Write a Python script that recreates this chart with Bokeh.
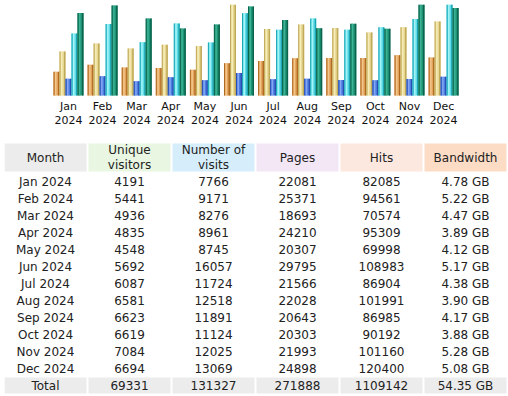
from bokeh.plotting import figure
from bokeh.layouts import column
from bokeh.models import Range1d, ColumnDataSource
from bokeh.transform import dodge
from bokeh.core.properties import value
from bokeh.embed import file_html
from bokeh.resources import INLINE

# ---------------- data ----------------
months = ["Jan", "Feb", "Mar", "Apr", "May", "Jun",
          "Jul", "Aug", "Sep", "Oct", "Nov", "Dec"]
year = "2024"
unique_visitors = [4191, 5441, 4936, 4835, 4548, 5692, 6087, 6581, 6623, 6619, 7084, 6694]
visits = [7766, 9171, 8276, 8961, 8745, 16057, 11724, 12518, 11891, 11124, 12025, 13069]
pages = [22081, 25371, 18693, 24210, 20307, 29795, 21566, 22028, 20643, 20303, 21993, 24898]
hits = [82085, 94561, 70574, 95309, 69998, 108983, 86904, 101991, 86985, 90192, 101160, 120400]
bandwidth_gb = [4.78, 5.22, 4.47, 3.89, 4.12, 5.17, 4.38, 3.90, 4.17, 3.88, 5.28, 5.08]
headers = ["Month", "Unique\nvisitors", "Number of\nvisits", "Pages", "Hits", "Bandwidth"]
totals = ["Total", "69331", "131327", "271888", "1109142", "54.35 GB"]

FONT = value("DejaVu Sans")

# ---------------- bar chart ----------------
PITCH = 34.1          # px per month group
BASE_PX = 91.0        # px of full bar height
bw = 1.0 / PITCH      # one pixel in x data units

vis_max = max(visits + unique_visitors)
hit_max = max(hits + pages)
bw_max = max(bandwidth_gb)

src = ColumnDataSource(dict(
    i=list(range(len(months))),
    m=months,
    yr=[year] * len(months),
    u=[v / vis_max for v in unique_visitors],
    v=[v / vis_max for v in visits],
    p=[v / hit_max for v in pages],
    h=[v / hit_max for v in hits],
    k=[v / bw_max for v in bandwidth_gb],
))

p = figure(width=504, height=130, output_backend="svg", toolbar_location=None,
           x_range=Range1d(-64 / PITCH, 440 / PITCH),
           y_range=Range1d(-39 / BASE_PX, 1.0),
           x_axis_location=None, y_axis_location=None,
           min_border=0, outline_line_color=None, background_fill_color="white",
           border_fill_color="white")
p.grid.visible = False

series = [
    ("u", "#E2A25A", "#B06A22", "#F2C68C"),
    ("v", "#E6D68E", "#BFA95A", "#F6ECBA"),
    ("p", "#4C7EE0", "#2A4FB4", "#86A8F4"),
    ("h", "#5EDDE6", "#1FA6B6", "#A6F4F8"),
    ("k", "#1E9277", "#0C644C", "#3CB392"),
]
for n, (col, mid, dark, light) in enumerate(series):
    off = (-12 + 6 * n) * bw
    p.vbar(x=dodge("i", off, range=p.x_range), top=col, bottom=0, width=6 * bw,
           source=src, fill_color=mid, line_color=None)
    p.vbar(x=dodge("i", off - 2.5 * bw, range=p.x_range), top=col, bottom=0, width=1 * bw,
           source=src, fill_color=dark, line_color=None)
    p.vbar(x=dodge("i", off + 2.25 * bw, range=p.x_range), top=col, bottom=0, width=1.5 * bw,
           source=src, fill_color=dark, line_color=None)
    p.vbar(x=dodge("i", off - 0.75 * bw, range=p.x_range), top=col, bottom=0, width=1.5 * bw,
           source=src, fill_color=light, line_color=None)

p.text(x="i", y=-11 / BASE_PX, text="m", source=src, text_font=FONT,
       text_font_size="11px", text_align="center", text_baseline="middle",
       text_color="#111111")
p.text(x="i", y=-24 / BASE_PX, text="yr", source=src, text_font=FONT,
       text_font_size="11px", text_align="center", text_baseline="middle",
       text_color="#111111")

# ---------------- table ----------------
t = figure(width=504, height=262, output_backend="svg", toolbar_location=None,
           x_range=Range1d(4, 508), y_range=Range1d(396, 134),
           x_axis_location=None, y_axis_location=None,
           min_border=0, outline_line_color=None, background_fill_color="white",
           border_fill_color="white")
t.grid.visible = False

ncol = len(headers)
col_x = [45 + 84 * j for j in range(ncol)]
header_colors = ["#ECECEC", "#E8F6E2", "#D6EEFB", "#F3E6F5", "#FDE8E0", "#FDDCC6"]

t.rect(x=col_x, y=[157] * ncol, width=82, height=28, fill_color=header_colors,
       line_color=None)
t.text(x=col_x, y=[157] * ncol, text=headers, text_font=FONT, text_font_size="12px",
       text_align="center", text_baseline="middle", text_line_height=1.1,
       text_color="#222222")

cells_x, cells_y, cells_t = [], [], []
for r in range(len(months)):
    row = [f"{months[r]} {year}", str(unique_visitors[r]), str(visits[r]),
           str(pages[r]), str(hits[r]), f"{bandwidth_gb[r]:.2f} GB"]
    for j, txt in enumerate(row):
        cells_x.append(col_x[j])
        cells_y.append(181 + 17 * r)
        cells_t.append(txt)

t.text(x=cells_x, y=cells_y, text=cells_t, text_font=FONT, text_font_size="12px",
       text_align="center", text_baseline="middle", text_color="#222222")

ty = 181 + 17 * len(months)
t.rect(x=col_x, y=[ty] * ncol, width=82, height=16, fill_color="#ECECEC", line_color=None)
t.text(x=col_x, y=[ty] * ncol, text=totals, text_font=FONT, text_font_size="12px",
       text_align="center", text_baseline="middle", text_color="#222222")

layout = column(p, t, spacing=0, margin=(4, 0, 0, 4))

open("out.html", "w").write(file_html(layout, INLINE))
